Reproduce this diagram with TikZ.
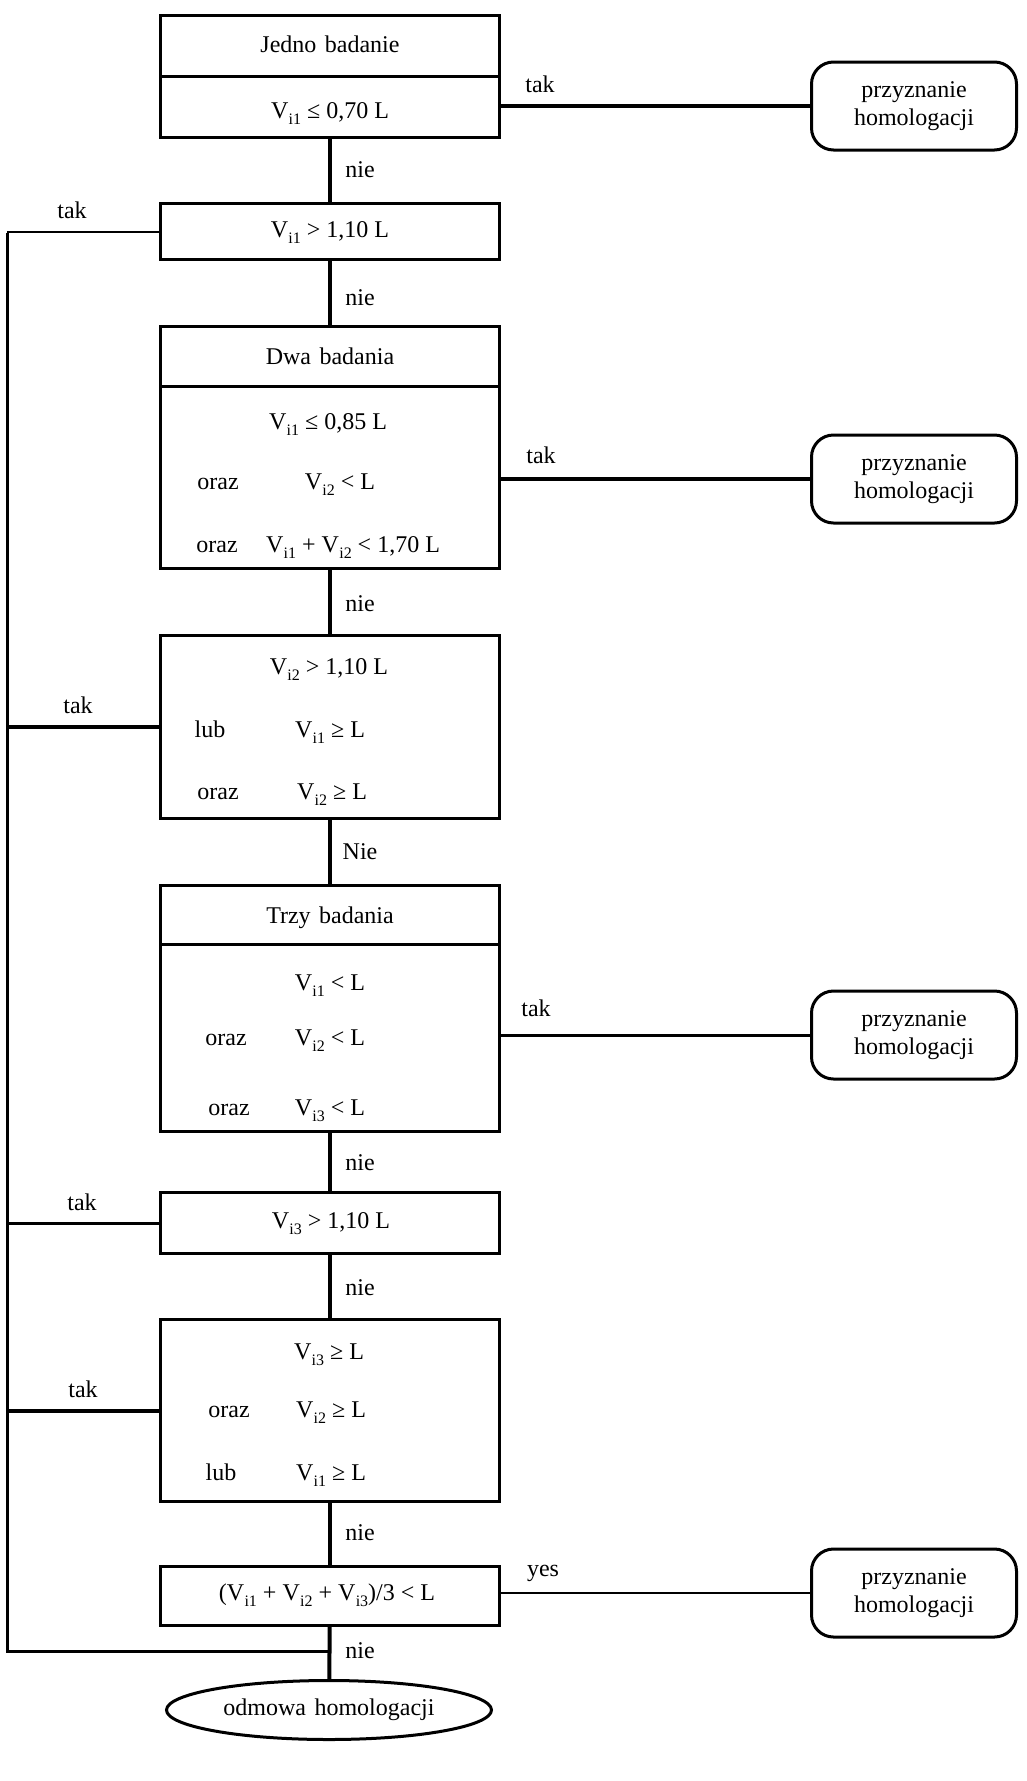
\documentclass[tikz,border=0pt]{standalone}
\usepackage{fontspec}
\setmainfont{Liberation Serif}
\usetikzlibrary{shapes.geometric}
\newcommand{\Vx}[1]{V\kern0.3pt\raisebox{-6pt}{\fontsize{16}{16}\selectfont i#1}}
\begin{document}
\begin{tikzpicture}[x=1pt,y=-1pt,
  every node/.style={font=\fontsize{24}{28}\selectfont, inner sep=0pt, outer sep=0pt},
  box/.style={draw, rectangle, line width=3.2pt, minimum width=339pt},
  rbox/.style={draw, rectangle, rounded corners=22pt, line width=3pt, minimum width=205pt, minimum height=88pt, align=center},
  txt/.style={anchor=base},
  divline/.style={line width=3pt},
  cthick/.style={line width=4pt},
  cmid/.style={line width=3pt},
  cthin/.style={line width=2pt}]
\useasboundingbox (0,0) rectangle (1027,1781);
\fill[white] (0,0) rectangle (1027,1781);

% boxes
\node[box, minimum height=122pt] (b1) at (330,76.5) {};
\node[box, minimum height=56pt]  (b2) at (330,231.5) {};
\node[box, minimum height=242pt] (b3) at (330,447.5) {};
\node[box, minimum height=183pt] (b4) at (330,727) {};
\node[box, minimum height=246pt] (b5) at (330,1008.5) {};
\node[box, minimum height=61pt]  (b6) at (330,1223) {};
\node[box, minimum height=182pt] (b7) at (330,1410.5) {};
\node[box, minimum height=59pt]  (b8) at (330,1596) {};
\node[draw, ellipse, line width=3pt, minimum width=325pt, minimum height=59pt] (e) at (329,1710) {odmowa\hspace{0.35em}homologacji};

% dividers
\coordinate (d1) at (330,76);
\coordinate (d3) at (330,386);
\coordinate (d5) at (330,944);
\draw[divline] (b1.west |- d1) -- (b1.east |- d1);
\draw[divline] (b3.west |- d3) -- (b3.east |- d3);
\draw[divline] (b5.west |- d5) -- (b5.east |- d5);

% box texts
\node[txt] (t1a) at (330,52) {Jedno\hspace{0.35em}badanie};
\node[txt] (t1b) at (330,118) {\Vx{1} ≤ 0,70 L};
\node[txt] (t2) at (330,237) {\Vx{1} > 1,10 L};
\node[txt] (t3a) at (330,364) {Dwa\hspace{0.35em}badania};
\node[txt] (t3b) at (328,429) {\Vx{1} ≤ 0,85 L};
\node[txt] (t3c) at (218,489) {oraz};
\node[txt] (t3d) at (340,489) {\Vx{2} < L};
\node[txt] (t3e) at (217,552) {oraz};
\node[txt] (t3f) at (353,552) {\Vx{1} + \Vx{2} < 1,70 L};
\node[txt] (t4a) at (329,674) {\Vx{2} > 1,10 L};
\node[txt] (t4b) at (210,737) {lub};
\node[txt] (t4c) at (330,737) {\Vx{1} ≥ L};
\node[txt] (t4d) at (218,799) {oraz};
\node[txt] (t4e) at (332,799) {\Vx{2} ≥ L};
\node[txt] (t5a) at (330,923) {Trzy\hspace{0.35em}badania};
\node[txt] (t5b) at (330,990) {\Vx{1} < L};
\node[txt] (t5c) at (226,1045) {oraz};
\node[txt] (t5d) at (330,1045) {\Vx{2} < L};
\node[txt] (t5e) at (229,1115) {oraz};
\node[txt] (t5f) at (330,1115) {\Vx{3} < L};
\node[txt] (t6) at (331,1228) {\Vx{3} > 1,10 L};
\node[txt] (t7a) at (329,1359) {\Vx{3} ≥ L};
\node[txt] (t7b) at (229,1417) {oraz};
\node[txt] (t7c) at (331,1417) {\Vx{2} ≥ L};
\node[txt] (t7d) at (221,1480) {lub};
\node[txt] (t7e) at (331,1480) {\Vx{1} ≥ L};
\node[txt] (t8) at (327,1600) {(\Vx{1} + \Vx{2} + \Vx{3})/3 < L};

% right result boxes
\node[rbox] (r1) at (914,106) {przyznanie\\homologacji};
\node[rbox] (r2) at (914,479) {przyznanie\\homologacji};
\node[rbox] (r3) at (914,1035) {przyznanie\\homologacji};
\node[rbox] (r4) at (914,1593) {przyznanie\\homologacji};

% vertical flow
\draw[cthick] (b1) -- (b2);
\draw[cthick] (b2) -- (b3);
\draw[cthick] (b3) -- (b4);
\draw[cthick] (b4) -- (b5);
\draw[cthick] (b5) -- (b6);
\draw[cthick] (b6) -- (b7);
\draw[cthick] (b7) -- (b8);
\draw[cthick] (b8) -- (e);

% right connectors
\draw[cthick] (b1.east |- r1.west) -- (r1.west);
\draw[cthick] (b3.east |- r2.west) -- (r2.west);
\draw[cmid] (b5.east |- r3.west) -- (r3.west);
\draw[cthin] (b8.east |- r4.west) -- (r4.west);

% left loop
\coordinate (Ltop) at (7,231.5);
\coordinate (Lbot) at (7,1651);
\coordinate (Ljoin) at (330,1651);
\draw[cthin] (b2.west) -- (Ltop);
\draw[cmid, line join=miter] ([yshift=-1pt]Ltop) -- (Lbot) -- (Ljoin);
\draw[cthick] (b4.west) -- (b4.west -| Ltop);
\draw[cmid] (b6.west) -- (b6.west -| Ltop);
\draw[cthick] (b7.west) -- (b7.west -| Ltop);

% labels
\node[txt] (l1) at (540,92) {tak};
\node[txt] (l2) at (541,463) {tak};
\node[txt] (l3) at (536,1016) {tak};
\node[txt] (l4) at (543,1576) {yes};
\node[txt] (l5) at (72,218) {tak};
\node[txt] (l6) at (78,713) {tak};
\node[txt] (l7) at (82,1210) {tak};
\node[txt] (l8) at (83,1397) {tak};
\node[txt] (n1) at (360,177) {nie};
\node[txt] (n2) at (360,305) {nie};
\node[txt] (n3) at (360,611) {nie};
\node[txt] (n4) at (360,859) {Nie};
\node[txt] (n5) at (360,1170) {nie};
\node[txt] (n6) at (360,1295) {nie};
\node[txt] (n7) at (360,1540) {nie};
\node[txt] (n8) at (360,1658) {nie};
\end{tikzpicture}
\end{document}
